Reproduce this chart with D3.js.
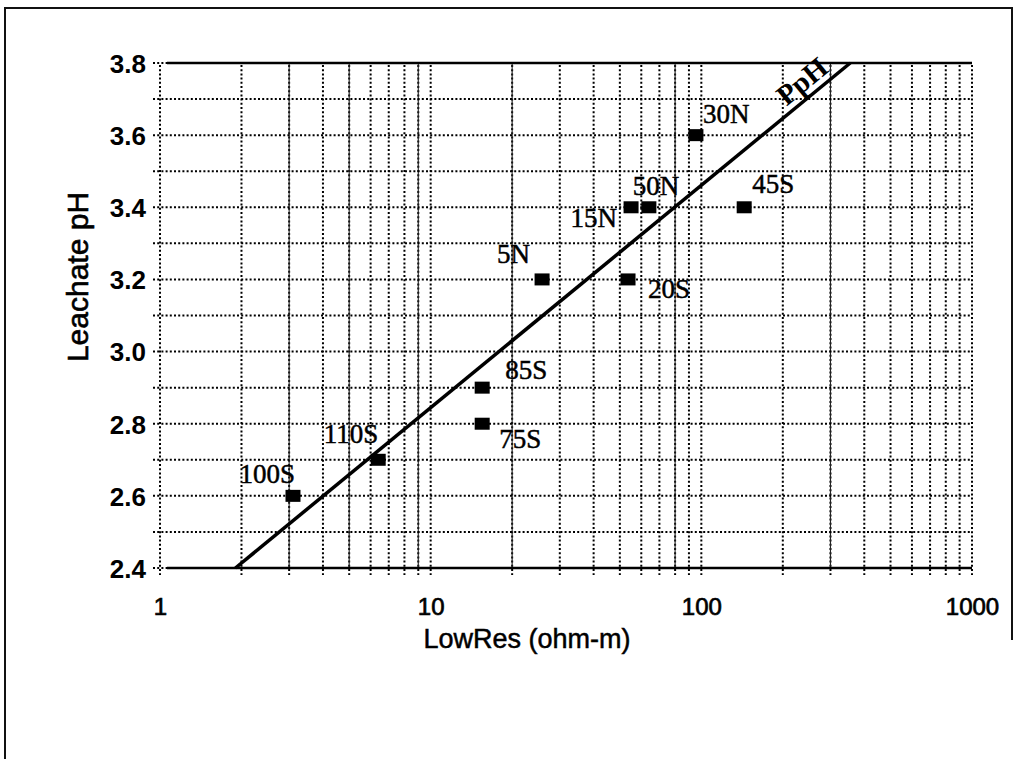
<!DOCTYPE html>
<html>
<head>
<meta charset="utf-8">
<script src="https://cdn.jsdelivr.net/npm/d3@7"></script>
<style>
  html, body { margin: 0; padding: 0; background: #fff; }
  svg { display: block; }
</style>
</head>
<body>
<svg id="chart" width="1017" height="759"></svg>
<script>
// ---- data ----
const sites = ["100S", "110S", "85S", "75S", "5N", "20S", "15N", "50N", "30N", "45S"];
const lowRes = [3.1, 6.4, 15.5, 15.5, 25.8, 53.6, 55, 64, 95.5, 144];
const leachatePH = [2.6, 2.7, 2.9, 2.8, 3.2, 3.2, 3.4, 3.4, 3.6, 3.4];
const fitLineX = [1.9, 355];
const fitLineY = [2.4, 3.8];
const fitLabel = "PpH";
const xTickValues = [1, 10, 100, 1000];
const yTickValues = [2.4, 2.6, 2.8, 3.0, 3.2, 3.4, 3.6, 3.8];
const yMinorValues = [2.5, 2.7, 2.9, 3.1, 3.3, 3.5, 3.7];
const solidGridX = [3, 5, 9, 20, 80, 300];

// label placement (pixels relative to marker)
const labelPlace = {
  "100S": { dx: 2, dy: -13, anchor: "end" },
  "110S": { dx: 0, dy: -17, anchor: "end" },
  "85S": { dx: 23, dy: -9, anchor: "start" },
  "75S": { dx: 17, dy: 24, anchor: "start" },
  "5N": { dx: -12, dy: -16, anchor: "end" },
  "20S": { dx: 20, dy: 19, anchor: "start" },
  "15N": { dx: -14, dy: 20, anchor: "end" },
  "50N": { dx: -16, dy: -12, anchor: "start" },
  "30N": { dx: 7, dy: -12, anchor: "start" },
  "45S": { dx: 8, dy: -14, anchor: "start" }
};

const svg = d3.select("#chart");
const L = 160, R = 972, T = 63, B = 568;

const x = d3.scaleLog().domain([1, 1000]).range([L, R]);
const y = d3.scaleLinear().domain([2.4, 3.8]).range([B, T]);

// outer frame
svg.append("path")
  .attr("d", `M5,759 L5,8 L1012,8 L1012,640`)
  .attr("fill", "none").attr("stroke", "#111").attr("stroke-width", 2);

const grid = svg.append("g");
const dotted = "2,2.2";

// vertical dotted grid (every log tick)
const allXTicks = x.ticks(30);
grid.selectAll("line.vx").data(allXTicks).enter().append("line")
  .attr("x1", d => x(d)).attr("x2", d => x(d))
  .attr("y1", T + 2).attr("y2", B + 7)
  .attr("stroke", "#000").attr("stroke-width", 2)
  .attr("stroke-dasharray", dotted);

// solid vertical lines
grid.selectAll("line.sx").data(solidGridX).enter().append("line")
  .attr("x1", d => x(d)).attr("x2", d => x(d))
  .attr("y1", T).attr("y2", B)
  .attr("stroke", "#222").attr("stroke-width", 1.1);

// horizontal dotted grid
grid.selectAll("line.hy").data(yTickValues.concat(yMinorValues)).enter().append("line")
  .attr("x1", L - 7).attr("x2", R)
  .attr("y1", d => y(d)).attr("y2", d => y(d))
  .attr("stroke", "#000").attr("stroke-width", 2)
  .attr("stroke-dasharray", dotted);

// top and bottom solid lines
[3.8, 2.4].forEach(v => {
  svg.append("line")
    .attr("x1", L + 7).attr("x2", R)
    .attr("y1", y(v)).attr("y2", y(v))
    .attr("stroke", "#000").attr("stroke-width", 2.4);
});

// y axis labels
const yAxis = d3.axisLeft(y).tickValues(yTickValues).tickSize(0).tickPadding(14)
  .tickFormat(d3.format(".1f"));
const gy = svg.append("g").attr("transform", `translate(${L},0)`).call(yAxis);
gy.select(".domain").remove();
gy.selectAll("text")
  .attr("font-family", "Liberation Sans, Arial, sans-serif")
  .attr("font-size", 26).attr("font-weight", "bold").attr("fill", "#000")
  .attr("dy", "0.36em");

// x axis labels
const xAxis = d3.axisBottom(x).tickValues(xTickValues).tickSize(0).tickPadding(30)
  .tickFormat(d3.format("d"));
const gx = svg.append("g").attr("transform", `translate(0,${B})`).call(xAxis);
gx.select(".domain").remove();
gx.selectAll("text")
  .attr("font-family", "Liberation Sans, Arial, sans-serif")
  .attr("font-size", 24).attr("fill", "#000")
  .attr("stroke", "#000").attr("stroke-width", 0.7);

// axis titles
svg.append("text")
  .attr("transform", `translate(88,277) rotate(-90)`)
  .attr("text-anchor", "middle")
  .attr("font-family", "Liberation Sans, Arial, sans-serif")
  .attr("font-size", 30).attr("fill", "#000")
  .attr("stroke", "#000").attr("stroke-width", 0.6)
  .text("Leachate pH");

svg.append("text")
  .attr("x", 527).attr("y", 648)
  .attr("text-anchor", "middle")
  .attr("font-family", "Liberation Sans, Arial, sans-serif")
  .attr("font-size", 27).attr("fill", "#000")
  .attr("stroke", "#000").attr("stroke-width", 0.5)
  .text("LowRes (ohm-m)");

// fit line
const line = d3.line().x(d => x(d[0])).y(d => y(d[1]));
svg.append("path")
  .datum(fitLineX.map((v, i) => [v, fitLineY[i]]))
  .attr("d", line)
  .attr("fill", "none").attr("stroke", "#000").attr("stroke-width", 3.5);

const ang = Math.atan2(y(fitLineY[1]) - y(fitLineY[0]), x(fitLineX[1]) - x(fitLineX[0])) * 180 / Math.PI;
const lx = 830, ly = 71;
svg.append("text")
  .attr("transform", `translate(${lx},${ly}) rotate(${ang})`)
  .attr("text-anchor", "end")
  .attr("font-family", "Liberation Serif, Times New Roman, serif")
  .attr("font-size", 29).attr("font-weight", "bold").attr("fill", "#000")
  .text(fitLabel);

// markers
const pts = sites.map((s, i) => ({ s, xv: lowRes[i], yv: leachatePH[i] }));
svg.selectAll("rect.pt").data(pts).enter().append("rect")
  .attr("x", d => x(d.xv) - 7.5).attr("y", d => y(d.yv) - 6)
  .attr("width", 15).attr("height", 12)
  .attr("fill", "#000");

svg.selectAll("text.lbl").data(pts).enter().append("text")
  .attr("x", d => x(d.xv) + labelPlace[d.s].dx)
  .attr("y", d => y(d.yv) + labelPlace[d.s].dy)
  .attr("text-anchor", d => labelPlace[d.s].anchor)
  .attr("font-family", "Liberation Serif, Times New Roman, serif")
  .attr("font-size", 27).attr("fill", "#000")
  .attr("stroke", "#000").attr("stroke-width", 0.5)
  .text(d => d.s);
</script>
</body>
</html>
